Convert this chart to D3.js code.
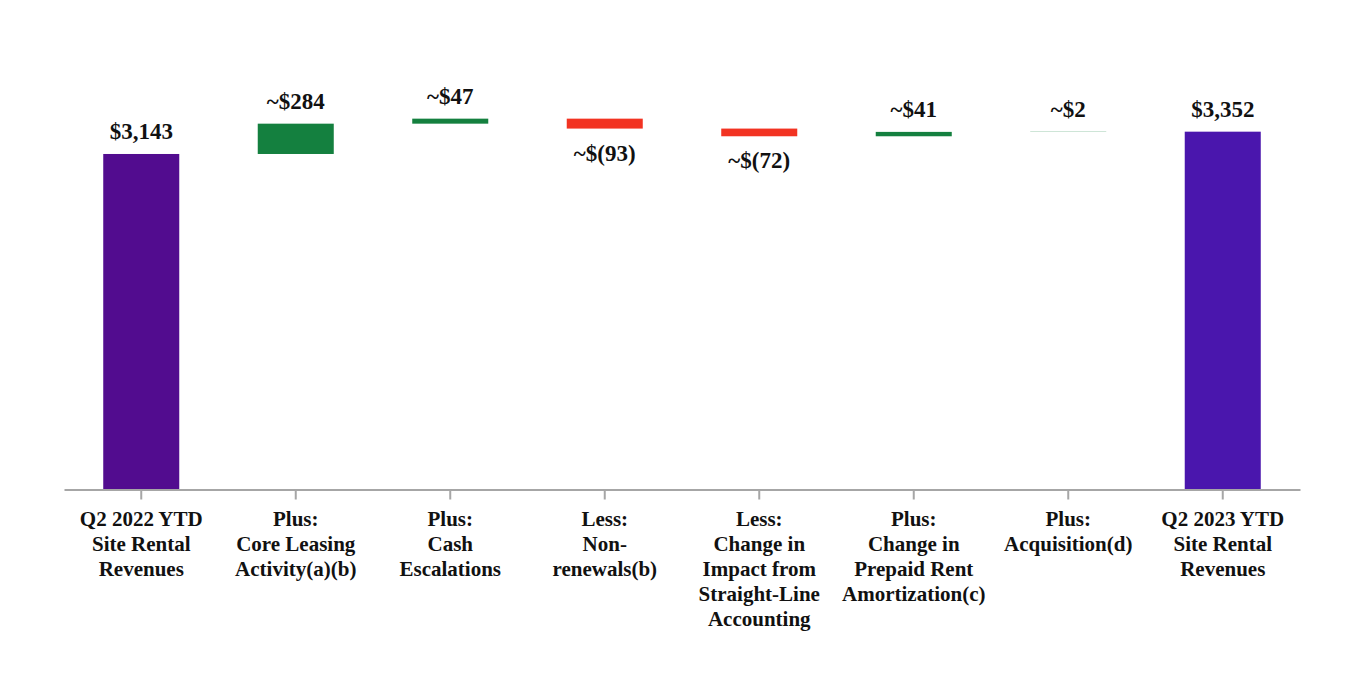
<!DOCTYPE html>
<html>
<head>
<meta charset="utf-8">
<script src="https://cdn.jsdelivr.net/npm/d3@7"></script>
<style>
  html, body { margin: 0; padding: 0; background: #ffffff; }
  svg { display: block; }
  text { font-family: "Liberation Serif", "Times New Roman", serif; font-weight: bold; fill: #111; }
</style>
</head>
<body>
<svg id="chart" width="1364" height="696"></svg>
<script>
// ---- data ----
const categories = [
  "Q2 2022 YTD|Site Rental|Revenues",
  "Plus:|Core Leasing|Activity(a)(b)",
  "Plus:|Cash|Escalations",
  "Less:|Non-|renewals(b)",
  "Less:|Change in|Impact from|Straight-Line|Accounting",
  "Plus:|Change in|Prepaid Rent|Amortization(c)",
  "Plus:|Acquisition(d)",
  "Q2 2023 YTD|Site Rental|Revenues"
];
const values = [3143, 284, 47, -93, -72, 41, 2, 3352];
const kinds = ["total", "delta", "delta", "delta", "delta", "delta", "delta", "total"];
const valueLabels = ["$3,143", "~$284", "~$47", "~$(93)", "~$(72)", "~$41", "~$2", "$3,352"];

// ---- build waterfall segments ----
let running = 0;
const rows = categories.map((c, i) => {
  let start, end;
  if (kinds[i] === "total") { start = 0; end = values[i]; running = values[i]; }
  else { start = running; end = running + values[i]; running = end; }
  return { cat: c, value: values[i], kind: kinds[i], label: valueLabels[i], idx: i,
           lo: Math.min(start, end), hi: Math.max(start, end) };
});

const svg = d3.select("#chart");
const x = d3.scaleBand().domain(categories).range([64, 1300]).paddingInner(0.508).paddingOuter(0.254);
const y = d3.scaleLinear().domain([0, 4000]).range([489.5, 62.5]);

const totalColors = ["#520c8f", "#4a16ad"];
function color(d) {
  if (d.kind === "total") return d.idx === 0 ? totalColors[0] : totalColors[1];
  return d.value >= 0 ? "#14803f" : "#f23322";
}

svg.append("g").selectAll("rect").data(rows).join("rect")
  .attr("x", d => x(d.cat))
  .attr("width", x.bandwidth())
  .attr("y", d => y(d.hi))
  .attr("height", d => Math.max(0, y(d.lo) - y(d.hi)))
  .attr("fill", color);

svg.append("g").selectAll("text").data(rows).join("text")
  .attr("x", d => x(d.cat) + x.bandwidth() / 2)
  .attr("y", d => d.value >= 0 ? y(d.hi) - 15 : y(d.lo) + 32)
  .attr("text-anchor", "middle")
  .style("font-size", "23px")
  .text(d => d.label);

// ---- axis ----
const axis = svg.append("g")
  .attr("transform", "translate(0,489.5)")
  .call(d3.axisBottom(x).tickSize(10).tickSizeOuter(0).tickFormat(""));
axis.select(".domain").attr("stroke", "#a6a6a6").attr("stroke-width", 2);
axis.selectAll(".tick line").attr("stroke", "#a6a6a6").attr("stroke-width", 2);

const tickText = axis.selectAll(".tick").append("text")
  .attr("text-anchor", "middle")
  .attr("y", 36)
  .style("font-size", "21px")
  .attr("fill", "#111");
tickText.each(function(d) {
  const t = d3.select(this);
  d.split("|").forEach((line, i) => {
    t.append("tspan").attr("x", 0).attr("dy", i === 0 ? 0 : 25).text(line);
  });
});
</script>
</body>
</html>
